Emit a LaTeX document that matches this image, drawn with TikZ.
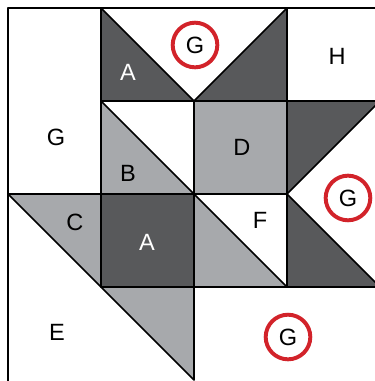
\documentclass[tikz,border=0pt]{standalone}
\usepackage{fontspec}
\setmainfont{Liberation Sans}
\usepackage{xcolor}
\definecolor{quiltdark}{HTML}{58595B}
\definecolor{quiltlight}{HTML}{A7A9AC}
\definecolor{quiltred}{HTML}{D2232A}

\begin{document}
\begin{tikzpicture}[x=2.5cm, y=2.5cm, line join=round,
    every node/.style={font=\fontsize{18}{20}\selectfont},
    darkpatch/.style={draw=black, line width=1.3pt, fill=quiltdark},
    lightpatch/.style={draw=black, line width=1.3pt, fill=quiltlight},
    circled/.style={circle, draw=quiltred, line width=3pt, minimum size=1.2cm, inner sep=0pt}]
  \useasboundingbox (-0.086,0.086) rectangle (3.946,-4.011);
  \clip (-0.086,0.086) rectangle (3.946,-4.011);
  % dark patches
  \draw[darkpatch] (1,0) -- (1,-1) -- (2,-1) -- cycle;
  \draw[darkpatch] (3,0) -- (3,-1) -- (2,-1) -- cycle;
  \draw[darkpatch] (3,-1) -- (4,-1) -- (3,-2) -- cycle;
  \draw[darkpatch] (3,-2) -- (3,-3) -- (4,-3) -- cycle;
  \draw[darkpatch] (1,-2) rectangle (2,-3);
  % light patches
  \draw[lightpatch] (2,-1) rectangle (3,-2);
  \draw[lightpatch] (1,-1) -- (1,-2) -- (2,-2) -- cycle;
  \draw[lightpatch] (0,-2) -- (1,-2) -- (1,-3) -- cycle;
  \draw[lightpatch] (1,-3) -- (2,-3) -- (2,-4) -- cycle;
  \draw[lightpatch] (2,-2) -- (2,-3) -- (3,-3) -- cycle;
  % outer edge, top and left
  \draw[line width=1.6pt] (0,-4.1) -- (0,0) -- (4,0);
  % patch letters
  \node[white] (labAtop) at (1.290,-0.688) {A};
  \node (labH) at (3.538,-0.516) {H};
  \node (labGleft) at (0.516,-1.387) {G};
  \node (labB) at (1.290,-1.774) {B};
  \node (labD) at (2.516,-1.495) {D};
  \node (labC) at (0.720,-2.301) {C};
  \node[white] (labAmid) at (1.495,-2.516) {A};
  \node (labF) at (2.710,-2.280) {F};
  \node (labE) at (0.527,-3.484) {E};
  % circled G patches
  \node[circled] (labGtop) at (2.011,-0.398) {G};
  \node[circled] (labGright) at (3.656,-2.043) {G};
  \node[circled] (labGbottom) at (3.011,-3.538) {G};
\end{tikzpicture}
\end{document}
